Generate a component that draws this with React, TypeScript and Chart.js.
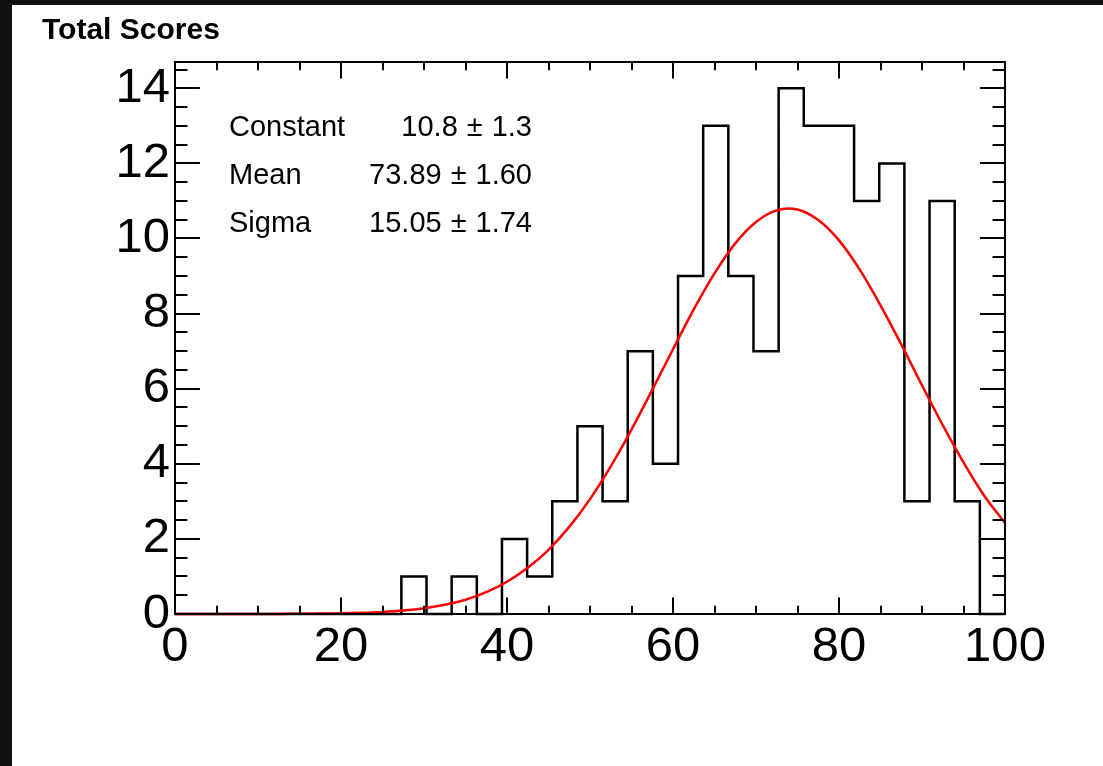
import React, { useEffect, useRef } from "react";
import { Chart, registerables } from "chart.js";

Chart.register(...registerables);

// ---- data ----
const chartTitle = "Total Scores";
const binCount = 33;
const xMin = 0;
const xMax = 100;
const binCounts = [
  0, 0, 0, 0, 0, 0, 0, 0, 0, 1, 0, 1, 0, 2, 1, 3, 5, 3, 7, 4, 9, 13, 9, 7, 14, 13, 13, 11, 12, 3, 11, 3, 0,
];
const fitX = [
  0, 2.5, 5, 7.5, 10, 12.5, 15, 17.5, 20, 22.5, 25, 27.5, 30, 32.5, 35, 37.5, 40, 42.5, 45, 47.5, 50,
  52.5, 55, 57.5, 60, 62.5, 65, 67.5, 70, 72.5, 75, 77.5, 80, 82.5, 85, 87.5, 90, 92.5, 95, 97.5, 100,
];
const fitY = [
  0, 0, 0, 0, 0.001, 0.003, 0.005, 0.01, 0.018, 0.032, 0.055, 0.093, 0.154, 0.246, 0.38, 0.58, 0.86,
  1.23, 1.71, 2.32, 3.06, 3.93, 4.91, 5.97, 7.05, 8.11, 9.07, 9.87, 10.44, 10.75, 10.77, 10.49, 9.95,
  9.17, 8.22, 7.18, 6.09, 5.03, 4.04, 3.15, 2.42,
];
const xTickValues = [0, 20, 40, 60, 80, 100];
const yTickValues = [0, 2, 4, 6, 8, 10, 12, 14];
const yMax = 14.7;
const xMinorStep = 5;
const yMinorStep = 0.5;
const statNames = ["Constant", "Mean", "Sigma"];
const statValues = ["10.8", "73.89", "15.05"];
const statErrors = ["1.3", "1.60", "1.74"];

const FONT = '"Liberation Sans", Arial, Helvetica, sans-serif';
const CANVAS_W = 1091;
const CANVAS_H = 761;

const rootStyle = {
  id: "rootStyle",
  afterDatasetsDraw(chart: any) {
    const { ctx, chartArea: a, scales } = chart;
    const xs = scales.x;
    const ys = scales.y;
    const w = a.right - a.left;
    const h = a.bottom - a.top;
    const xMajor = 0.03 * h;
    const yMajor = 0.03 * w;
    ctx.save();
    ctx.strokeStyle = "#000";
    ctx.lineWidth = 2;
    ctx.lineCap = "butt";
    ctx.beginPath();
    for (let v = xMin; v <= xMax + 1e-9; v += xMinorStep) {
      const px = Math.round(xs.getPixelForValue(v));
      const major = xTickValues.some((t) => Math.abs(t - v) < 1e-6);
      const len = major ? xMajor : xMajor / 2;
      ctx.moveTo(px, a.bottom);
      ctx.lineTo(px, a.bottom - len);
      ctx.moveTo(px, a.top);
      ctx.lineTo(px, a.top + len);
    }
    for (let v = 0; v <= yMax + 1e-9; v += yMinorStep) {
      const py = Math.round(ys.getPixelForValue(v));
      const major = yTickValues.some((t) => Math.abs(t - v) < 1e-6);
      const len = major ? yMajor : yMajor / 2;
      ctx.moveTo(a.left, py);
      ctx.lineTo(a.left + len, py);
      ctx.moveTo(a.right, py);
      ctx.lineTo(a.right - len, py);
    }
    ctx.stroke();
    ctx.strokeRect(a.left, a.top, w, h);
    ctx.restore();
  },
  afterDraw(chart: any) {
    const { ctx } = chart;
    ctx.save();
    ctx.fillStyle = "#000";
    ctx.textBaseline = "alphabetic";
    ctx.font = `bold 30px ${FONT}`;
    ctx.textAlign = "left";
    ctx.fillText(chartTitle, 30, 34);

    ctx.font = `29px ${FONT}`;
    const leftX = 217;
    const rightX = 520;
    const gap = 9;
    statNames.forEach((name, i) => {
      const yb = 131 + i * 48;
      ctx.textAlign = "left";
      ctx.fillText(name, leftX, yb);
      ctx.textAlign = "right";
      ctx.fillText(statErrors[i], rightX, yb);
      const errW = ctx.measureText(statErrors[i]).width;
      const pmX = rightX - errW - gap;
      ctx.fillText("\u00b1", pmX, yb);
      const pmW = ctx.measureText("\u00b1").width;
      ctx.fillText(statValues[i], pmX - pmW - gap, yb);
    });
    ctx.restore();
  },
};

export default function App() {
  const canvasRef = useRef<HTMLCanvasElement | null>(null);

  useEffect(() => {
    if (!canvasRef.current) return;
    const binWidth = (xMax - xMin) / binCount;
    const histPoints = binCounts.map((c, i) => ({ x: xMin + i * binWidth, y: c }));
    histPoints.push({ x: xMax, y: binCounts[binCounts.length - 1] });
    const fitPoints = fitX.map((x, i) => ({ x, y: fitY[i] }));

    const chart = new Chart(canvasRef.current, {
      type: "line",
      data: {
        datasets: [
          {
            label: "fit",
            data: fitPoints,
            borderColor: "#ff0000",
            borderWidth: 2.5,
            pointRadius: 0,
            fill: false,
            tension: 0.3,
            clip: 4,
          },
          {
            label: "Total Scores",
            data: histPoints,
            borderColor: "#000000",
            borderWidth: 2.5,
            pointRadius: 0,
            fill: false,
            stepped: "before",
            clip: 4,
          },
        ],
      },
      options: {
        responsive: false,
        animation: false,
        events: [],
        layout: { padding: { left: 0, top: 57, right: 98, bottom: 0 } },
        plugins: {
          legend: { display: false },
          tooltip: { enabled: false },
          title: { display: false },
        },
        scales: {
          x: {
            type: "linear",
            min: xMin,
            max: xMax,
            grid: { display: false, drawTicks: false },
            border: { display: false },
            ticks: {
              color: "#000",
              font: { family: FONT, size: 49 },
              padding: 4,
              maxRotation: 0,
              autoSkip: false,
            },
            afterBuildTicks: (s: any) => {
              s.ticks = xTickValues.map((v) => ({ value: v }));
            },
            afterFit: (s: any) => {
              s.height = 152;
            },
          },
          y: {
            type: "linear",
            min: 0,
            max: yMax,
            grid: { display: false, drawTicks: false },
            border: { display: false },
            ticks: {
              color: "#000",
              font: { family: FONT, size: 49 },
              padding: 5,
              autoSkip: false,
            },
            afterBuildTicks: (s: any) => {
              s.ticks = yTickValues.map((v) => ({ value: v }));
            },
            afterFit: (s: any) => {
              s.width = 163;
            },
          },
        },
      },
      plugins: [rootStyle],
    } as any);

    return () => chart.destroy();
  }, []);

  return (
    <div
      style={{
        position: "fixed",
        left: 0,
        top: 0,
        width: 1103,
        height: 766,
        background: "#111",
        overflow: "hidden",
      }}
    >
      <div
        style={{
          position: "absolute",
          left: 12,
          top: 5,
          width: CANVAS_W,
          height: CANVAS_H,
          background: "#fff",
        }}
      >
        <canvas ref={canvasRef} width={CANVAS_W} height={CANVAS_H} style={{ display: "block" }} />
      </div>
    </div>
  );
}
